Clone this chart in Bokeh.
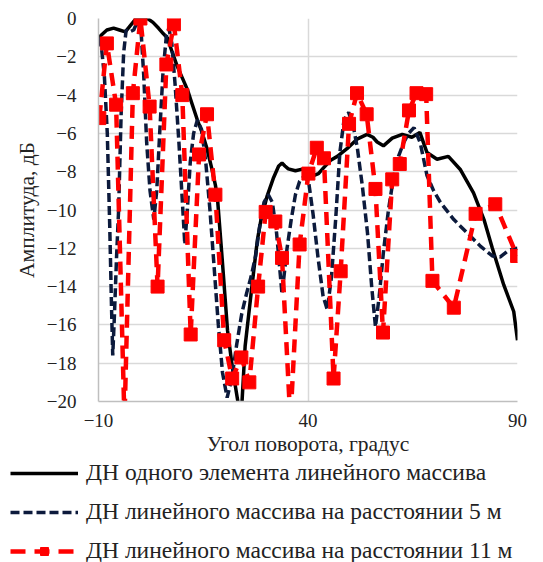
from bokeh.plotting import figure
from bokeh.models import Range1d, FixedTicker, Legend, LegendItem
from bokeh.layouts import column
from bokeh.embed import file_html
from bokeh.resources import INLINE

# ---- data ----
single_x = [-10, -9.5, -8, -6.4, -5, -3.6, -2.5, -1.2, 0, 1.7, 3, 4.3, 5.5, 6.4, 7.5, 8.8, 10, 11.2,
            12.4, 13.6, 14.8, 15.9, 17, 17.9, 18.4, 19.5, 20.8, 22, 24, 25, 26.5, 27.9, 28.7, 30.2,
            31.8, 33, 33.8, 34.5, 35.3, 37, 38.9, 40, 41.3, 42.5, 43.7, 45.4, 47, 49.3, 51.7, 54.1,
            55.5, 56.5, 58, 60.1, 62.5, 64.8, 66.7, 68.4, 70.8, 73.5, 76.4, 79.5, 82, 84, 86.7, 89.1, 90]
single_y = [-1.1, -0.9, -0.6, -0.5, -0.6, -0.7, -0.4, -0.05, 0, 0, -0.2, -0.5, -0.8, -1.0, -1.7, -2.5,
            -3.1, -3.7, -4.5, -5.3, -6.0, -6.8, -7.8, -8.7, -9.4, -12.5, -16.3, -18.3, -21.0, -17.1,
            -14.2, -11.6, -10.6, -9.3, -8.3, -7.7, -7.55, -7.7, -7.85, -7.95, -7.85, -7.9, -8.2, -8.1,
            -7.8, -7.4, -7.2, -6.8, -6.3, -6.05, -6.2, -6.45, -6.65, -6.25, -6.05, -6.2, -5.95, -7.0,
            -7.35, -7.2, -7.9, -9.1, -10.5, -12.0, -13.9, -15.3, -16.8]

m5_x = [-10, -9.3, -8.6, -7.9, -7.3, -6.9, -6.6, -6.2, -5.7, -5.2, -4.6, -4.0, -3.4, -2.6, -1.6, -0.6,
        0.2, 0.8, 1.5, 2.3, 3.2, 3.9, 4.6, 5.4, 6.2, 6.8, 7.5, 8.3, 9.2, 10.0, 10.6, 11.2, 11.9, 12.7,
        13.6, 14.6, 15.6, 16.6, 17.6, 18.6, 19.6, 20.7, 21.8, 23.0, 24.2, 25.4, 26.4, 27.5, 28.5,
        29.5, 30.5, 31.5, 32.5, 33.8, 35.0, 36.0, 37.0, 38.0, 39.2, 40.2, 41.2, 42.4, 43.6, 44.6,
        45.6, 46.6, 47.6, 48.6, 49.7, 50.8, 51.8, 53.0, 54.2, 55.2, 56.1, 57.0, 58.0, 59.2, 60.4,
        61.6, 62.8, 64.0, 65.3, 66.8, 68.4, 70.0, 71.6, 74.8, 78.0, 81.2, 84.0, 85.9, 87.9, 90.0]
m5_y = [-1.0, -1.5, -3.0, -6.0, -11.0, -15.0, -17.6, -15.5, -12.5, -10.0, -5.0, -1.8, -0.6, -0.7,
        -0.6, -0.1, -0.8, -3.0, -6.5, -9.0, -10.5, -9.0, -6.0, -2.8, -0.9, -0.5, -1.3, -3.5, -6.5,
        -9.5, -11.8, -10.0, -7.5, -6.0, -5.3, -5.8, -7.5, -10.0, -13.0, -16.0, -18.5, -19.8, -18.8,
        -17.0, -15.4, -14.3, -13.5, -12.4, -10.8, -9.6, -9.2, -9.6, -11.2, -14.4, -12.0, -10.5, -9.2,
        -8.5, -8.2, -8.6, -10.2, -12.5, -14.5, -15.2, -13.5, -10.5, -7.0, -5.3, -4.9, -5.6, -6.8,
        -8.8, -11.2, -14.0, -16.1, -14.5, -12.2, -10.0, -8.3, -7.2, -6.5, -6.0, -5.7, -6.5, -8.2,
        -9.0, -9.6, -10.5, -11.2, -11.9, -12.4, -12.45, -12.1, -12.0]

m11_x = [-9.8, -8, -5.8, -3.8, -1.8, 0, 2.2, 4.1, 6.2, 8, 10, 12, 14, 15.9, 17.9, 20, 21.9, 24.1, 26,
         28.1, 29.9, 32.2, 33.8, 35.8, 38, 40.1, 42.1, 43.8, 46.1, 47.8, 49.8, 51.7, 54, 56.1, 57.9,
         60.1, 61.9, 64.1, 65.9, 68.2, 69.7, 74.8, 80, 84.7, 89.9]
m11_y = [-5.2, -1.3, -4.5, -21.0, -3.9, 0, -4.6, -14.0, -2.4, -0.3, -4.0, -16.5, -7.1, -5.0, -9.2,
         -16.8, -18.8, -17.7, -19.0, -14.0, -10.1, -10.6, -12.5, -21.0, -11.8, -8.1, -6.75, -7.3,
         -18.8, -13.2, -5.5, -3.9, -5.0, -8.9, -16.4, -8.4, -7.6, -4.8, -3.9, -3.95, -13.7, -15.1,
         -10.2, -9.7, -12.4]

x_ticks = [-10, 40, 90]
y_ticks = [-20, -18, -16, -14, -12, -10, -8, -6, -4, -2, 0]

labels = ["ДН одного элемента линейного массива",
          "ДН линейного массива на расстоянии 5 м",
          "ДН линейного массива на расстоянии 11 м"]
x_title = "Угол поворота, градус"
y_title = "Амплитуда, дБ"

FONT = "Liberation Serif"
C_SINGLE, C_M5, C_M11 = "black", "#0c1a3c", "#ff0000"
DASH_M5, DASH_M11 = "9 4", "13 8"

p = figure(width=543, height=458, output_backend="svg", toolbar_location=None,
           x_range=Range1d(-10, 90), y_range=Range1d(-20, 0),
           min_border_left=98, min_border_right=26, min_border_top=18, min_border_bottom=54)
p.frame_align = False
p.outline_line_color = None
p.background_fill_color = "white"
p.border_fill_color = "white"

for ax in (p.xaxis[0], p.yaxis[0]):
    ax.major_tick_line_color = None
    ax.minor_tick_line_color = None
    ax.axis_line_color = "#bfbfbf"
    ax.axis_line_width = 1.5
    ax.major_label_text_font = FONT
    ax.major_label_text_font_size = "19px"
    ax.major_label_text_color = "#222222"
    ax.axis_label_text_font = FONT
    ax.axis_label_text_font_size = "21.5px"
    ax.axis_label_text_font_style = "normal"
    ax.axis_label_text_color = "#222222"

p.xaxis.ticker = FixedTicker(ticks=x_ticks)
p.yaxis.ticker = FixedTicker(ticks=y_ticks)
p.xaxis.axis_label = x_title
p.yaxis.axis_label = y_title
p.xaxis.major_label_standoff = 6
p.yaxis.major_label_standoff = 16
p.xaxis.axis_label_standoff = 2
p.yaxis.axis_label_standoff = 5

p.xgrid.ticker = FixedTicker(ticks=x_ticks)
p.ygrid.ticker = FixedTicker(ticks=y_ticks)
p.xgrid.grid_line_color = "#d9d9d9"
p.ygrid.grid_line_color = "#d9d9d9"
p.xgrid.grid_line_width = 1.5
p.ygrid.grid_line_width = 1.5

p.line(single_x, single_y, line_color=C_SINGLE, line_width=3.5)
p.line(m5_x, m5_y, line_color=C_M5, line_width=3.5, line_dash=DASH_M5)
p.line(m11_x, m11_y, line_color=C_M11, line_width=4.5, line_dash=DASH_M11)
p.scatter(m11_x, m11_y, marker="square", size=13, fill_color=C_M11, line_color=C_M11)

# ---- legend panel below the chart (same series, outside its visible range) ----
lg = figure(width=543, height=104, output_backend="svg", toolbar_location=None,
            x_range=Range1d(1000, 1001), y_range=Range1d(1000, 1001),
            x_axis_location=None, y_axis_location=None,
            min_border=0, min_border_left=0, min_border_right=0, min_border_top=0, min_border_bottom=0)
lg.frame_align = False
lg.outline_line_color = None
lg.grid.visible = False
l1 = lg.line(single_x, single_y, line_color=C_SINGLE, line_width=3.5)
l2 = lg.line(m5_x, m5_y, line_color=C_M5, line_width=3.5, line_dash=DASH_M5)
l3 = lg.line(m11_x, m11_y, line_color=C_M11, line_width=4.5, line_dash="15 9")
l4 = lg.scatter(m11_x, m11_y, marker="square", size=13, fill_color=C_M11, line_color=C_M11)

legend = Legend(items=[LegendItem(label=labels[0], renderers=[l1]),
                       LegendItem(label=labels[1], renderers=[l2]),
                       LegendItem(label=labels[2], renderers=[l3, l4])],
                location=(10, -2), orientation="vertical")
legend.label_text_font = FONT
legend.label_text_font_size = "23.5px"
legend.label_text_color = "#222222"
legend.glyph_width = 68
legend.glyph_height = 20
legend.label_height = 20
legend.spacing = 12
legend.padding = 0
legend.margin = 0
legend.label_standoff = 8
legend.border_line_color = None
legend.background_fill_alpha = 0
lg.add_layout(legend, "center")

layout = column(p, lg, spacing=0)
open("out.html", "w").write(file_html(layout, INLINE))
